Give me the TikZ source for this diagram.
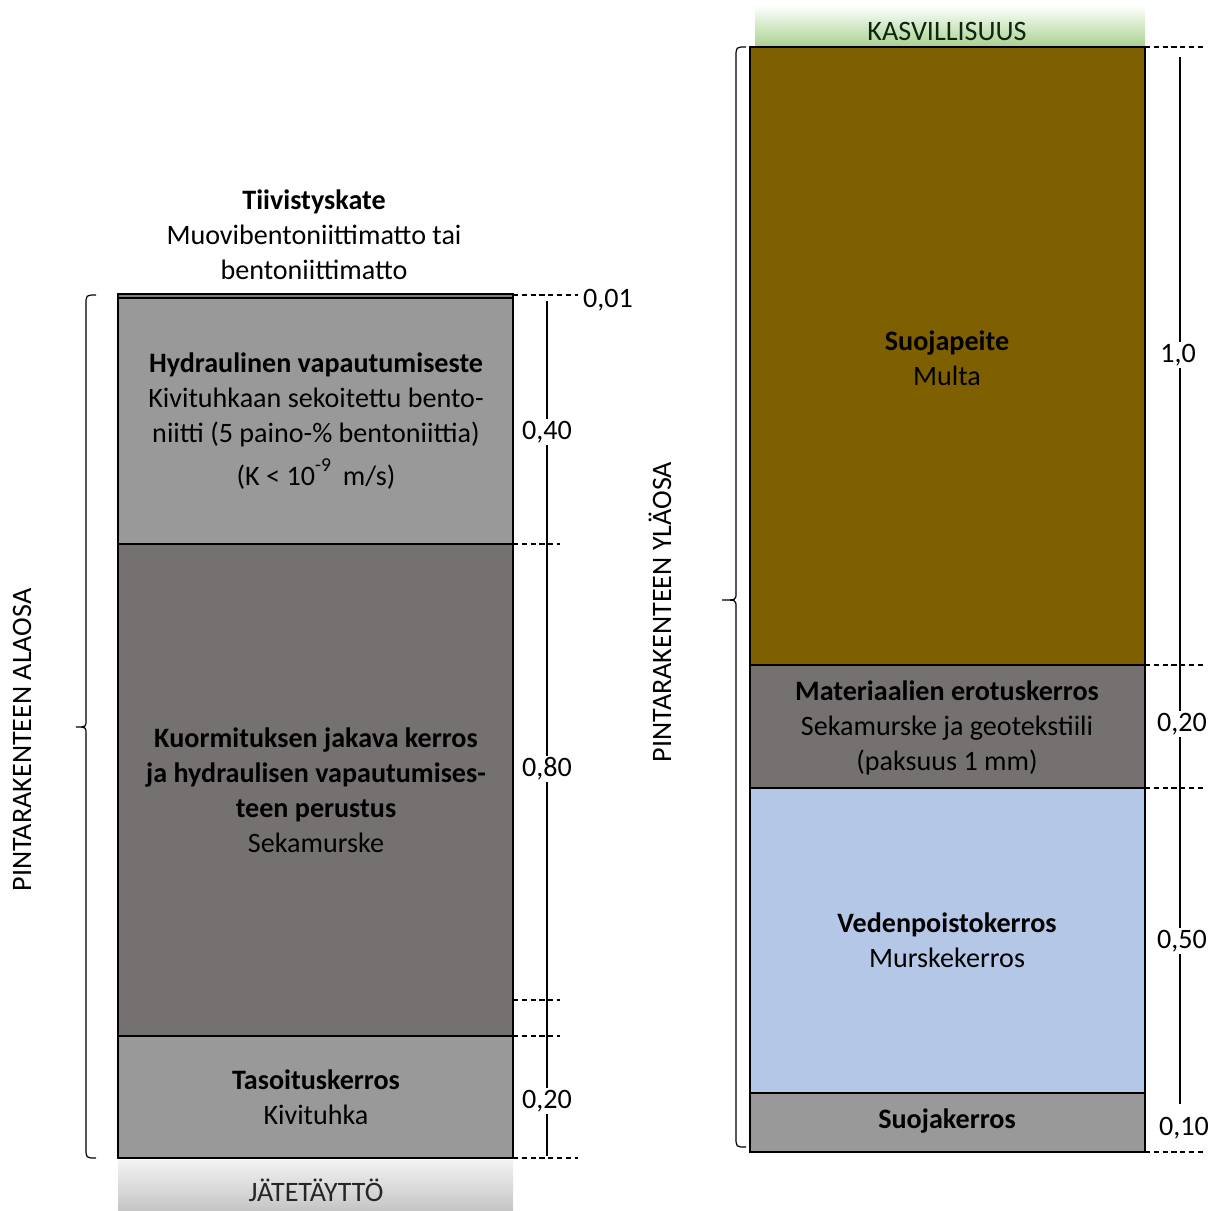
\documentclass[tikz,border=0pt]{standalone}
\usepackage{fontspec}
\setmainfont{Carlito}

\definecolor{lightgrey}{HTML}{999999}
\definecolor{darkgrey}{HTML}{767171}
\definecolor{soilbrown}{HTML}{7F6000}
\definecolor{drainblue}{HTML}{B4C7E7}
\definecolor{plantgreen}{HTML}{A9D18E}
\definecolor{plantdark}{HTML}{0F260F}

\begin{document}
\begin{tikzpicture}[x=0.02cm, y=-0.02cm,
  txt/.style={font=\fontsize{16}{20}\selectfont, align=center, inner sep=1pt},
  layer/.style={draw=black, line width=0.7pt},
  tick/.style={draw=black, line width=0.6pt, dash pattern=on 3pt off 2pt},
  dim/.style={draw=black, line width=0.7pt},
  lbl/.style={txt, fill=white},
  bracket/.style={draw=black, line width=0.7pt}]
  \useasboundingbox (0,0) rectangle (1222,1210);

  \filldraw[layer, fill=lightgrey] (118,298) rectangle (513,544);
  \filldraw[layer, fill=gray] (118,294) rectangle (513,298);
  \filldraw[layer, fill=darkgrey] (118,544) rectangle (513,1036);
  \filldraw[layer, fill=lightgrey] (118,1036) rectangle (513,1158);
  \shade[top color=gray!10, bottom color=gray!45] (118,1160) rectangle (513,1210);
  \node[txt, text=black!85] (waste) at (316,1190) {JÄTETÄYTTÖ};

  \node[txt] (cover) at (314,235) {\textbf{Tiivistyskate}\\Muovibentoniittimatto tai\\bentoniittimatto};
  \node[txt] (barrier) at (316,421) {\textbf{Hydraulinen vapautumiseste}\\Kivituhkaan sekoitettu bento-\\niitti (5 paino-\% bentoniittia)\\[4pt](K < 10\raisebox{1.5pt}{\textsuperscript{-9}}\, m/s)};
  \node[txt] (loadlayer) at (316,790) {\textbf{Kuormituksen jakava kerros}\\\textbf{ja hydraulisen vapautumises-}\\\textbf{teen perustus}\\Sekamurske};
  \node[txt] (levelling) at (316,1097) {\textbf{Tasoituskerros}\\Kivituhka};

  \shade[top color=white, bottom color=plantgreen] (755,5) rectangle (1145,47);
  \node[txt, text=plantdark] (plants) at (947,31) {KASVILLISUUS};
  \filldraw[layer, fill=soilbrown] (750,47) rectangle (1145,665);
  \filldraw[layer, fill=darkgrey] (750,665) rectangle (1145,788);
  \filldraw[layer, fill=drainblue] (750,788) rectangle (1145,1093);
  \filldraw[layer, fill=lightgrey] (750,1093) rectangle (1145,1152);

  \node[txt] (topsoil) at (947,358) {\textbf{Suojapeite}\\Multa};
  \node[txt] (separator) at (947,728) {\textbf{Materiaalien erotuskerros}\\Sekamurske ja geotekstiili\\(paksuus 1 mm)};
  \node[txt] (drainage) at (947,940) {\textbf{Vedenpoistokerros}\\Murskekerros};
  \node[txt] (protect) at (947,1121) {\textbf{Suojakerros}};

  \draw[tick] (513,295) -- (578,295);
  \draw[tick] (513,544) -- (560,544);
  \draw[tick] (513,1000) -- (560,1000);
  \draw[tick] (513,1036) -- (560,1036);
  \draw[tick] (513,1158) -- (578,1158);
  \coordinate (ltop) at (547,301);
  \coordinate (lbot) at (547,1156);
  \draw[dim] (ltop) -- (lbot);
  \node[txt] (d001) at (608,300) {0,01};
  \node[lbl] (d040) at (547,432) {0,40};
  \node[lbl] (d080) at (547,769) {0,80};
  \node[lbl] (d020a) at (547,1101) {0,20};

  \draw[tick] (1145,47) -- (1205,47);
  \draw[tick] (1145,665) -- (1205,665);
  \draw[tick] (1145,788) -- (1205,788);
  \draw[tick] (1145,1152) -- (1205,1152);
  \coordinate (rtop) at (1180,57);
  \coordinate (rbot) at (1180,1104);
  \draw[dim] (rtop) -- (rbot);
  \node[lbl] (d10) at (1178,355) {1,0};
  \node[lbl] (d020b) at (1182,724) {0,20};
  \node[lbl] (d050) at (1182,941) {0,50};
  \node[lbl] (d010) at (1184,1128) {0,10};

  \draw[bracket] (96,295) .. controls (86,295) .. (86,305) -- (86,720)
    .. controls (86,727) .. (76,727) .. controls (86,727) .. (86,734)
    -- (86,1148) .. controls (86,1158) .. (96,1158);
  \draw[bracket] (746,47) .. controls (736,47) .. (736,57) -- (736,593)
    .. controls (736,600) .. (722,600) .. controls (736,600) .. (736,607)
    -- (736,1137) .. controls (736,1147) .. (746,1147);

  \node[txt, rotate=90] (lowpart) at (22,740) {PINTARAKENTEEN ALAOSA};
  \node[txt, rotate=90] (uppart) at (660,612) {PINTARAKENTEEN YLÄOSA};
\end{tikzpicture}
\end{document}
